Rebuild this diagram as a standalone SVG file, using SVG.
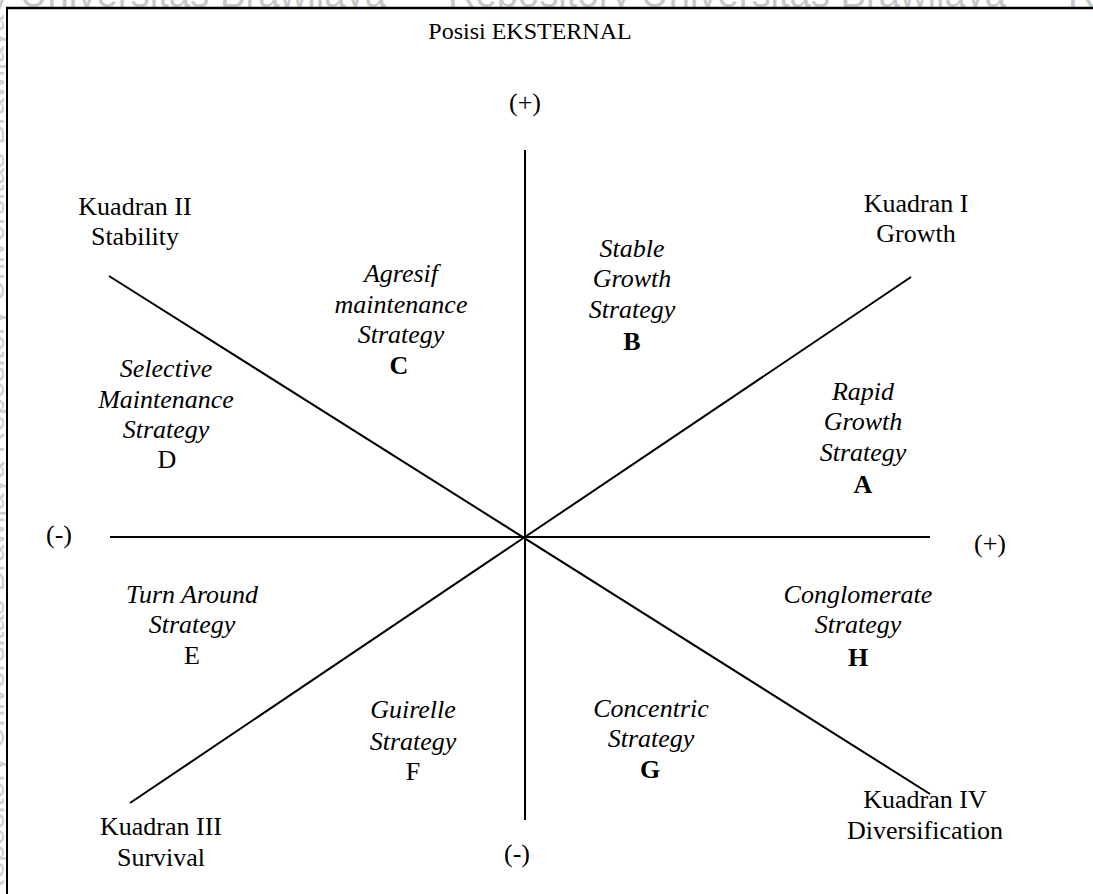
<svg xmlns="http://www.w3.org/2000/svg" width="1093" height="894" viewBox="0 0 1093 894">
  <style>
    .wm { font-family: "Liberation Sans", Arial, sans-serif; font-size: 40px; fill: #c8c8c8; }
    .wm-side { font-family: "Liberation Sans", Arial, sans-serif; font-size: 30px; fill: #d2d2d2; }
    .t { font-family: "Liberation Serif", "Times New Roman", serif; font-size: 26px; fill: #000; text-anchor: middle; }
    .i { font-style: italic; }
    .b { font-weight: bold; }
    .axis { stroke: #000; stroke-width: 2; fill: none; }
    .frame { stroke: #000; fill: none; }
  </style>

  <!-- page background and faint repository watermark -->
  <rect x="0" y="0" width="1093" height="894" fill="#fff"/>
  <g id="watermark">
    <text class="wm" y="7" x="-174" textLength="560" lengthAdjust="spacingAndGlyphs">Repository Universitas Brawijaya</text>
    <text class="wm" y="7" x="448" textLength="558" lengthAdjust="spacingAndGlyphs">Repository Universitas Brawijaya</text>
    <text class="wm" y="7" x="1068" textLength="558" lengthAdjust="spacingAndGlyphs">Repository Universitas Brawijaya</text>
    <text class="wm-side" transform="translate(4,900) rotate(-90)">Repository Universitas Brawijaya   Repository Universitas Brawijaya</text>
  </g>

  <!-- diagram panel -->
  <rect x="7" y="8" width="1086" height="886" fill="#fff"/>
  <g id="frame">
    <line class="frame" x1="6" y1="8" x2="1093" y2="8" stroke-width="2.5"/>
    <line class="frame" x1="7" y1="7" x2="7" y2="894" stroke-width="2"/>
  </g>

  <!-- axes and quadrant diagonals -->
  <g id="connectors">
    <line class="axis" x1="525" y1="150" x2="525" y2="820"/>
    <line class="axis" x1="110" y1="537" x2="930" y2="537"/>
    <line class="axis" x1="911" y1="277" x2="130" y2="803"/>
    <line class="axis" x1="109" y1="276" x2="930" y2="794"/>
  </g>

  <g id="title">
    <text class="t" x="530" y="39" style="font-size:24px">Posisi EKSTERNAL</text>
  </g>

  <g id="axis-labels">
    <text class="t" x="525" y="111">(+)</text>
    <text class="t" x="59" y="543">(-)</text>
    <text class="t" x="990" y="552">(+)</text>
    <text class="t" x="517" y="862">(-)</text>
  </g>

  <g id="kuadran-1">
    <text class="t" x="916" y="212">Kuadran I</text>
    <text class="t" x="916" y="242">Growth</text>
  </g>
  <g id="kuadran-2">
    <text class="t" x="135" y="215">Kuadran II</text>
    <text class="t" x="135" y="245">Stability</text>
  </g>
  <g id="kuadran-3">
    <text class="t" x="161" y="835">Kuadran III</text>
    <text class="t" x="161" y="866">Survival</text>
  </g>
  <g id="kuadran-4">
    <text class="t" x="925" y="808">Kuadran IV</text>
    <text class="t" x="925" y="839">Diversification</text>
  </g>

  <g id="strategy-a">
    <text class="t i" x="863" y="400">Rapid</text>
    <text class="t i" x="863" y="430">Growth</text>
    <text class="t i" x="863" y="461">Strategy</text>
    <text class="t b" x="863" y="493">A</text>
  </g>
  <g id="strategy-b">
    <text class="t i" x="632" y="257">Stable</text>
    <text class="t i" x="632" y="287">Growth</text>
    <text class="t i" x="632" y="318">Strategy</text>
    <text class="t b" x="632" y="350">B</text>
  </g>
  <g id="strategy-c">
    <text class="t i" x="401" y="282">Agresif</text>
    <text class="t i" x="401" y="313">maintenance</text>
    <text class="t i" x="401" y="343">Strategy</text>
    <text class="t b" x="399" y="374">C</text>
  </g>
  <g id="strategy-d">
    <text class="t i" x="166" y="377">Selective</text>
    <text class="t i" x="166" y="408">Maintenance</text>
    <text class="t i" x="166" y="438">Strategy</text>
    <text class="t" x="167" y="468">D</text>
  </g>
  <g id="strategy-e">
    <text class="t i" x="192" y="603">Turn Around</text>
    <text class="t i" x="192" y="633">Strategy</text>
    <text class="t" x="192" y="664">E</text>
  </g>
  <g id="strategy-f">
    <text class="t i" x="413" y="718">Guirelle</text>
    <text class="t i" x="413" y="750">Strategy</text>
    <text class="t" x="413" y="780">F</text>
  </g>
  <g id="strategy-g">
    <text class="t i" x="651" y="717">Concentric</text>
    <text class="t i" x="651" y="747">Strategy</text>
    <text class="t b" x="650" y="778">G</text>
  </g>
  <g id="strategy-h">
    <text class="t i" x="858" y="603">Conglomerate</text>
    <text class="t i" x="858" y="633">Strategy</text>
    <text class="t b" x="858" y="666">H</text>
  </g>
</svg>
